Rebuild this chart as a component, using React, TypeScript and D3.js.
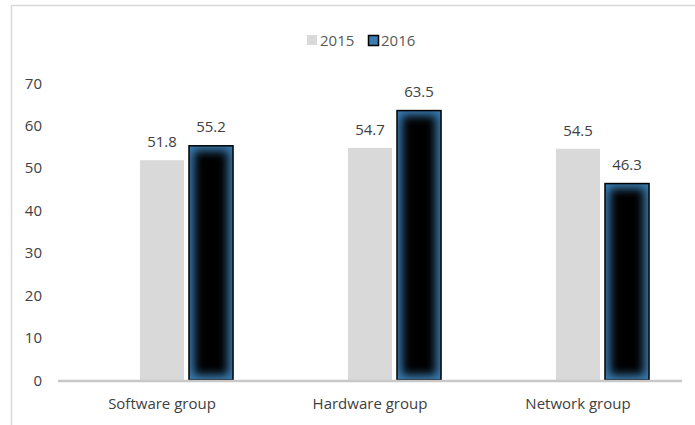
import React from "react";
import * as d3 from "d3";

const WIDTH = 695;
const HEIGHT = 425;

const categories = ["Software group", "Hardware group", "Network group"];
const seriesNames = ["2015", "2016"];
const values2015 = [51.8, 54.7, 54.5];
const values2016 = [55.2, 63.5, 46.3];
const yTicks = [0, 10, 20, 30, 40, 50, 60, 70];

// Excel leaves an empty first slot in every group, keep it
const slots = ["", "2015", "2016"];

const FONT = "'Open Sans', sans-serif";
const TEXT = "#404040";
const GREY_BAR = "#d9d9d9";
const BLUE = "#3a7db3";

export default function App() {
    const x0 = d3.scaleBand<string>().domain(categories).range([58, 682]).paddingInner(0.317).paddingOuter(0.1585);
    const x1 = d3.scaleBand<string>().domain(slots).range([0, x0.bandwidth()]).paddingInner(0.102);
    const y = d3.scaleLinear().domain([0, 70]).range([380, 83]);

    const rows = categories.map((c, i) => ({name: c, v2015: values2015[i], v2016: values2016[i]}));

    return (
        <svg width={WIDTH} height={HEIGHT} style={{position: "absolute", left: 0, top: 0}} fontFamily={FONT}>
            <defs>
                <filter id="soft" x="-50%" y="-50%" width="200%" height="200%">
                    <feGaussianBlur stdDeviation="5"/>
                </filter>
                {rows.map((d, i) => {
                    const bx = x0(d.name)! + x1("2016")!;
                    const by = y(d.v2016);
                    return (
                        <clipPath id={"clip" + i} key={i}>
                            <rect x={bx} y={by} width={x1.bandwidth()} height={y(0) - by}/>
                        </clipPath>
                    );
                })}
            </defs>

            <rect x={0} y={0} width={WIDTH} height={HEIGHT} fill="#fff"/>
            <path d={`M11.5,${HEIGHT}V5.5H${WIDTH}`} fill="none" stroke="#d9d9d9" strokeWidth={1.5}/>

            {/* legend */}
            <g fontSize={15} fill="#595959">
                <rect x={307} y={35} width={10} height={10} fill={GREY_BAR}/>
                <text x={320} y={46}>{seriesNames[0]}</text>
                <rect x={368.5} y={35.5} width={10} height={10} fill={BLUE} stroke="#000" strokeWidth={1.5}/>
                <text x={381} y={46}>{seriesNames[1]}</text>
            </g>

            {/* y axis labels */}
            <g fontSize={15} fill={TEXT} textAnchor="end">
                {yTicks.map(t => (
                    <text key={t} x={42} y={y(t) + 5.5}>{t}</text>
                ))}
            </g>

            {/* bars */}
            {rows.map((d, i) => {
                const gx = x0(d.name)!;
                const ax = gx + x1("2015")!;
                const bx = gx + x1("2016")!;
                const w = x1.bandwidth();
                const ay = y(d.v2015);
                const by = y(d.v2016);
                return (
                    <g key={d.name}>
                        <rect x={ax} y={ay} width={w} height={y(0) - ay} fill={GREY_BAR}/>
                        <g clipPath={`url(#clip${i})`}>
                            <rect x={bx} y={by} width={w} height={y(0) - by} fill={BLUE}/>
                            <rect x={bx + 5} y={by + 5} width={w - 10} height={y(0) - by - 10} fill="#000" filter="url(#soft)"/>
                        </g>
                        <rect x={bx} y={by} width={w} height={y(0) - by} fill="none" stroke="#000" strokeWidth={1.5}/>
                        <text x={ax + w / 2} y={ay - 13} textAnchor="middle" fontSize={15} fill={TEXT}>{d.v2015.toFixed(1)}</text>
                        <text x={bx + w / 2} y={by - 14} textAnchor="middle" fontSize={15} fill={TEXT}>{d.v2016.toFixed(1)}</text>
                    </g>
                );
            })}

            {/* x axis */}
            <line x1={58} x2={682} y1={y(0) + 1} y2={y(0) + 1} stroke="#c8c8c8" strokeWidth={2.5}/>
            <g fontSize={15} fill={TEXT} textAnchor="middle">
                {categories.map(c => (
                    <text key={c} x={x0(c)! + x0.bandwidth() / 2} y={409}>{c}</text>
                ))}
            </g>
        </svg>
    );
}
